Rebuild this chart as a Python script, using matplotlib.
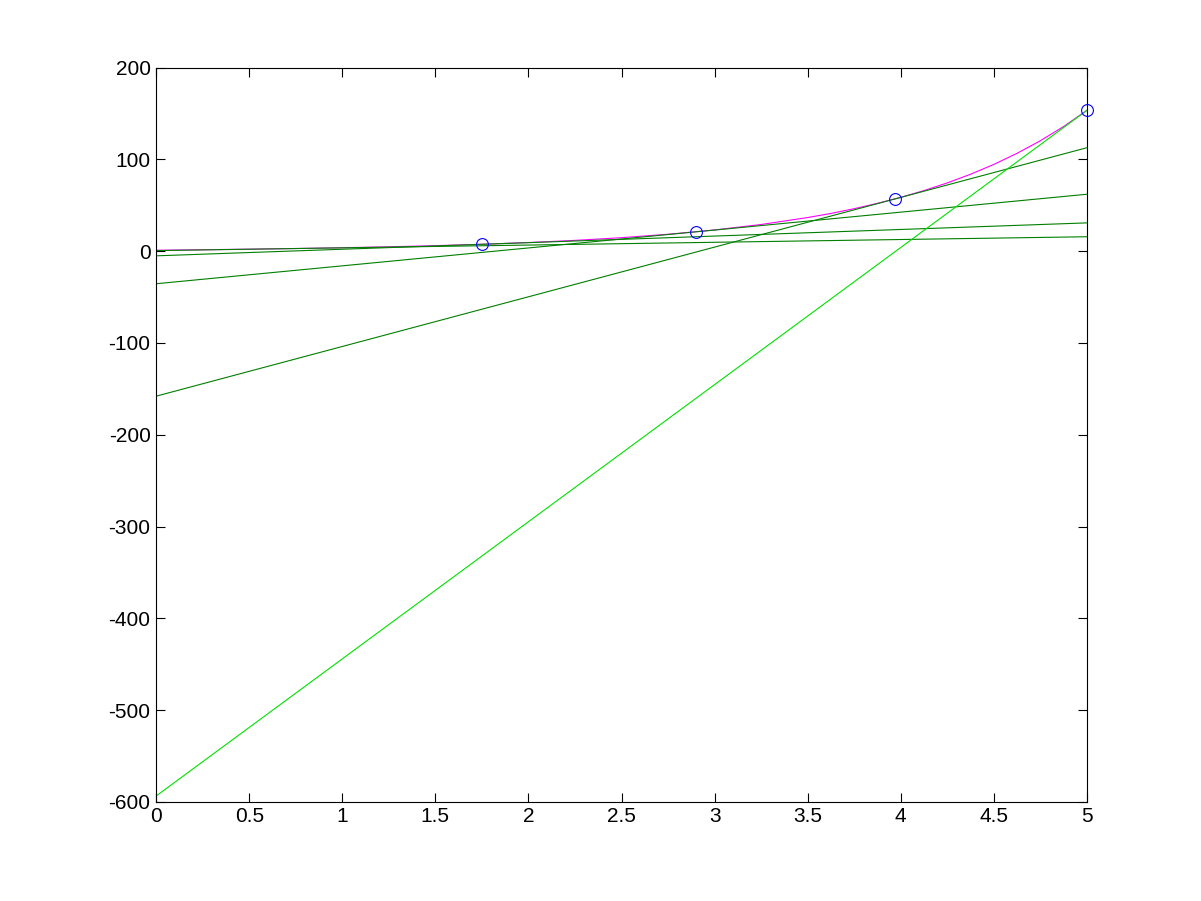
import matplotlib
matplotlib.use("Agg")
import matplotlib.pyplot as plt
import numpy as np

# curve values
curve_x = [0, 0.25, 0.5, 0.75, 1, 1.25, 1.5, 1.75, 2, 2.25, 2.5, 2.75, 3,
           3.25, 3.5, 3.625, 3.75, 3.875, 4, 4.125, 4.25, 4.375, 4.5,
           4.625, 4.75, 4.875, 5]
curve_y = [1.0, 1.53, 2.15, 2.87, 3.72, 4.74, 5.98, 7.5, 9.39, 11.74, 14.68,
           18.39, 23.09, 29.04, 36.62, 41.1, 46.27, 52.1, 58.6, 66.0, 74.35,
           83.8, 94.5, 106.6, 120.3, 135.8, 153.4]

# marked points
pts_x = [1.75, 2.9, 3.97, 5.0]
pts_y = [8.0, 21.4, 57.1, 153.4]

# straight lines: value at x=0 and at x=5
line_x = [0, 5]
bright_line = [-593.6, 153.4]
dark_lines = [
    [-158.0, 112.7],
    [-35.5, 62.0],
    [-5.1, 30.8],
    [0.6, 15.7],
]

plt.rcParams['font.family'] = ['Liberation Sans', 'DejaVu Sans']
plt.rcParams['axes.unicode_minus'] = False

fig = plt.figure(figsize=(12.01, 9.01), dpi=100)
ax = fig.add_axes([0.13, 0.11, 0.775, 0.815])

ax.plot(curve_x, curve_y, color='#ff00ff', lw=0.8)
for ln in dark_lines:
    ax.plot(line_x, ln, color='#007f00', lw=0.8)
ax.plot(line_x, bright_line, color='#00e000', lw=0.8)
ax.plot(pts_x, pts_y, 'o', mfc='none', mec='#0000ff', ms=8.5, mew=0.8,
        clip_on=False)

ax.set_xlim(0, 5)
ax.set_ylim(-600, 200)
ax.set_xticks(np.arange(0, 5.01, 0.5))
ax.set_xticklabels(['0', '0.5', '1', '1.5', '2', '2.5', '3', '3.5', '4', '4.5', '5'])
ax.set_yticks(np.arange(-600, 201, 100))
ax.tick_params(direction='in', top=True, right=True, length=6.5, width=0.8,
               labelsize=15, pad=4)
for s in ax.spines.values():
    s.set_linewidth(0.8)

fig.savefig('out.png', dpi=100)
